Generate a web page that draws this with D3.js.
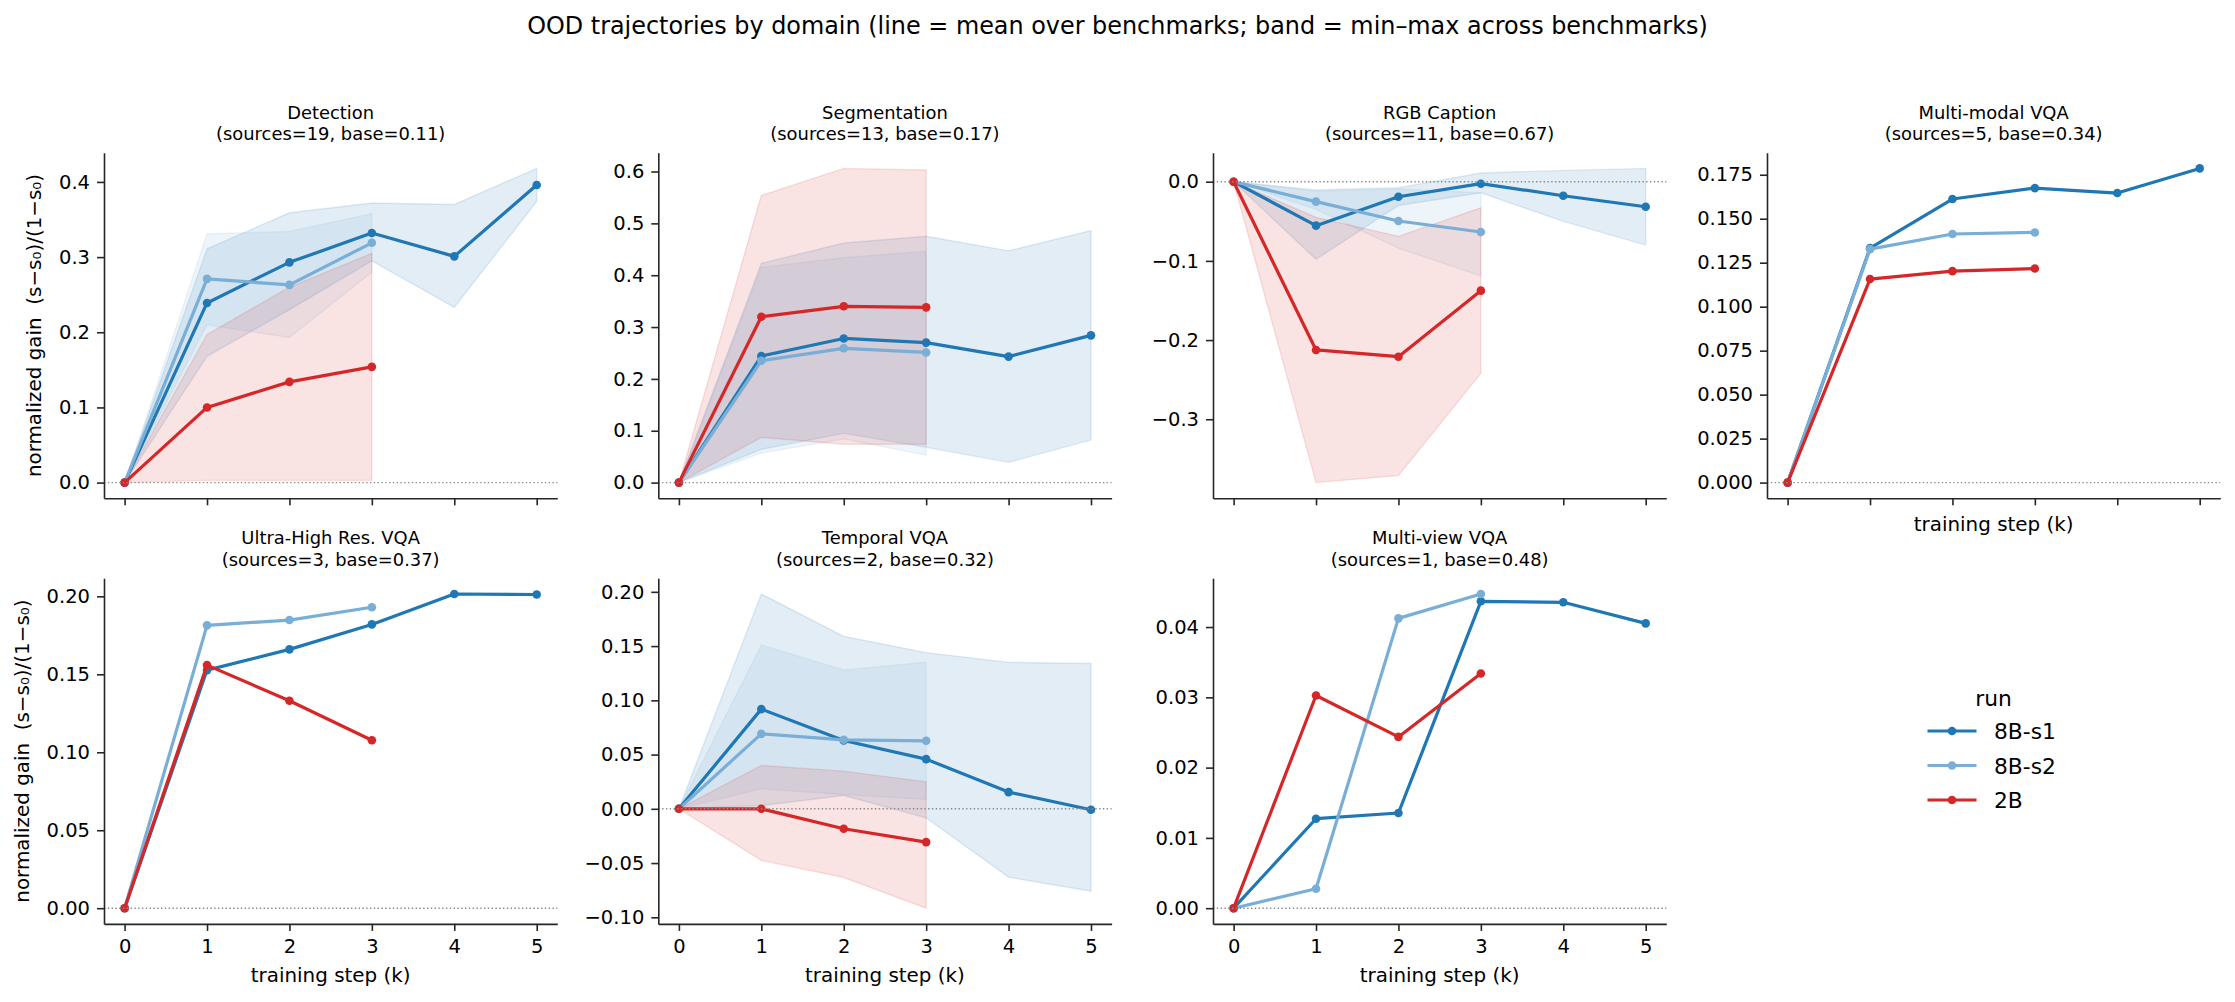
<!DOCTYPE html>
<html>
<head>
<meta charset="utf-8">
<script src="https://cdn.jsdelivr.net/npm/d3@7"></script>
<style>
  body { margin: 0; background: #fff; }
  svg text { font-family: "DejaVu Sans", sans-serif; fill: #000; }
  .ylab { white-space: pre; }
</style>
</head>
<body>
<svg id="chart" width="2235" height="1002"></svg>
<script>
// OOD trajectories, one small multiple per domain
// line = mean over benchmarks, band = min-max across benchmarks

const steps = [0, 1, 2, 3, 4, 5];
const runs = ['8B-s1', '8B-s2', '2B'];

// Detection
const det_s1 = [0, 0.239, 0.293, 0.332, 0.301, 0.396];
const det_s1_lo = [0, 0.168, 0.230, 0.295, 0.233, 0.374];
const det_s1_hi = [0, 0.311, 0.359, 0.372, 0.370, 0.418];
const det_s2 = [0, 0.271, 0.263, 0.319];
const det_s2_lo = [0, 0.210, 0.193, 0.280];
const det_s2_hi = [0, 0.331, 0.334, 0.358];
const det_2b = [0, 0.100, 0.134, 0.154];
const det_2b_lo = [0, 0.003, 0.003, 0.003];
const det_2b_hi = [0, 0.197, 0.260, 0.305];

// Segmentation
const seg_s1 = [0, 0.244, 0.278, 0.270, 0.243, 0.284];
const seg_s1_lo = [0, 0.064, 0.095, 0.068, 0.039, 0.082];
const seg_s1_hi = [0, 0.423, 0.462, 0.475, 0.447, 0.486];
const seg_s2 = [0, 0.235, 0.259, 0.251];
const seg_s2_lo = [0, 0.057, 0.084, 0.053];
const seg_s2_hi = [0, 0.415, 0.434, 0.446];
const seg_2b = [0, 0.320, 0.340, 0.338];
const seg_2b_lo = [0, 0.087, 0.074, 0.074];
const seg_2b_hi = [0, 0.554, 0.606, 0.603];

// RGB Caption
const rgb_s1 = [0, -0.0555, -0.019, -0.0025, -0.0177, -0.0316];
const rgb_s1_lo = [0, -0.098, -0.030, -0.014, -0.050, -0.080];
const rgb_s1_hi = [0, -0.0104, -0.0075, 0.011, 0.0143, 0.0168];
const rgb_s2 = [0, -0.0252, -0.0496, -0.0635];
const rgb_s2_lo = [0, -0.035, -0.084, -0.119];
const rgb_s2_hi = [0, -0.012, -0.009, -0.014];
const rgb_2b = [0, -0.2125, -0.221, -0.1376];
const rgb_2b_lo = [0, -0.380, -0.371, -0.242];
const rgb_2b_hi = [0, -0.045, -0.069, -0.033];

// Multi-modal VQA (no spread shown)
const mm_s1 = [0, 0.1333, 0.1612, 0.1674, 0.1646, 0.1786];
const mm_s2 = [0, 0.1327, 0.1413, 0.1422];
const mm_2b = [0, 0.1157, 0.1202, 0.1217];

// Ultra-High Res. VQA
const uhr_s1 = [0, 0.1527, 0.1660, 0.1820, 0.2015, 0.2012];
const uhr_s2 = [0, 0.1814, 0.1848, 0.1930];
const uhr_2b = [0, 0.1559, 0.1330, 0.1077];

// Temporal VQA
const tmp_s1 = [0, 0.0919, 0.0630, 0.0458, 0.0154, -0.0009];
const tmp_s1_lo = [0, 0.003, 0.0123, -0.0083, -0.063, -0.076];
const tmp_s1_hi = [0, 0.198, 0.159, 0.144, 0.135, 0.134];
const tmp_s2 = [0, 0.0691, 0.0636, 0.0627];
const tmp_s2_lo = [0, 0.0184, 0.0132, 0.0086];
const tmp_s2_hi = [0, 0.151, 0.128, 0.135];
const tmp_2b = [0, 0, -0.0184, -0.0307];
const tmp_2b_lo = [0, -0.0476, -0.0633, -0.0916];
const tmp_2b_hi = [0, 0.040, 0.0347, 0.0249];

// Multi-view VQA
const mv_s1 = [0, 0.01273, 0.01354, 0.04366, 0.04352, 0.04052];
const mv_s2 = [0, 0.00276, 0.04123, 0.0447];
const mv_2b = [0, 0.03026, 0.02437, 0.0334];

// y tick values per panel
const yTicksDet = [0, 0.1, 0.2, 0.3, 0.4];
const yTicksSeg = [0, 0.1, 0.2, 0.3, 0.4, 0.5, 0.6];
const yTicksRgb = [-0.3, -0.2, -0.1, 0];
const yTicksMm = [0, 0.025, 0.05, 0.075, 0.1, 0.125, 0.15, 0.175];
const yTicksUhr = [0, 0.05, 0.1, 0.15, 0.2];
const yTicksTmp = [-0.1, -0.05, 0, 0.05, 0.1, 0.15, 0.2];
const yTicksMv = [0, 0.01, 0.02, 0.03, 0.04];

const panels = [
    { name: 'Detection', sources: 19, base: '0.11', ticks: yTicksDet, dec: 1,
      mean: [det_s1, det_s2, det_2b], lo: [det_s1_lo, det_s2_lo, det_2b_lo], hi: [det_s1_hi, det_s2_hi, det_2b_hi] },
    { name: 'Segmentation', sources: 13, base: '0.17', ticks: yTicksSeg, dec: 1,
      mean: [seg_s1, seg_s2, seg_2b], lo: [seg_s1_lo, seg_s2_lo, seg_2b_lo], hi: [seg_s1_hi, seg_s2_hi, seg_2b_hi] },
    { name: 'RGB Caption', sources: 11, base: '0.67', ticks: yTicksRgb, dec: 1,
      mean: [rgb_s1, rgb_s2, rgb_2b], lo: [rgb_s1_lo, rgb_s2_lo, rgb_2b_lo], hi: [rgb_s1_hi, rgb_s2_hi, rgb_2b_hi] },
    { name: 'Multi-modal VQA', sources: 5, base: '0.34', ticks: yTicksMm, dec: 3,
      mean: [mm_s1, mm_s2, mm_2b] },
    { name: 'Ultra-High Res. VQA', sources: 3, base: '0.37', ticks: yTicksUhr, dec: 2,
      mean: [uhr_s1, uhr_s2, uhr_2b] },
    { name: 'Temporal VQA', sources: 2, base: '0.32', ticks: yTicksTmp, dec: 2,
      mean: [tmp_s1, tmp_s2, tmp_2b], lo: [tmp_s1_lo, tmp_s2_lo, tmp_2b_lo], hi: [tmp_s1_hi, tmp_s2_hi, tmp_2b_hi] },
    { name: 'Multi-view VQA', sources: 1, base: '0.48', ticks: yTicksMv, dec: 2,
      mean: [mv_s1, mv_s2, mv_2b] }
];

// styling / layout
const runColor = ['#1f77b4', '#79aed6', '#d62728'];
const bandAlpha = 0.13;
const colLeft = [104, 658.3, 1213, 1767];
const rowTop = [152.7, 578.3];
const panelW = 453.3, panelH = 345.6;
const fsTick = 19.5, fsTitle = 17.9, fsLabel = 19.9, fsLegend = 21.8;

const svg = d3.select('#chart');

svg.append('text')
    .attr('x', 1117.5).attr('y', 34)
    .attr('text-anchor', 'middle')
    .attr('font-size', 23.9)
    .text('OOD trajectories by domain (line = mean over benchmarks; band = min–max across benchmarks)');

panels.forEach((p, k) => {
    const row = k < 4 ? 0 : 1;
    const col = k < 4 ? k : k - 4;
    const left = colLeft[col], top = rowTop[row];
    const g = svg.append('g').attr('transform', `translate(${left},${top})`);

    const x = d3.scaleLinear().domain([-0.25, 5.25]).range([0, panelW]);
    const all = p.mean.flat().concat(p.lo ? p.lo.flat() : [], p.hi ? p.hi.flat() : []);
    const [lo, hi] = d3.extent(all);
    const pad = (hi - lo) * 0.05;
    const y = d3.scaleLinear().domain([lo - pad, hi + pad]).range([panelH, 0]);

    // Bands
    if (p.lo) {
        p.mean.forEach((m, r) => {
            const pts = m.map((_, i) => ({ s: steps[i], lo: p.lo[r][i], hi: p.hi[r][i] }));
            const area = d3.area().x(d => x(d.s)).y0(d => y(d.lo)).y1(d => y(d.hi));
            g.append('path').datum(pts)
                .attr('d', area)
                .attr('fill', runColor[r])
                .attr('fill-opacity', bandAlpha)
                .attr('stroke', runColor[r])
                .attr('stroke-opacity', bandAlpha)
                .attr('stroke-width', 1.4);
        });
    }

    // Mean lines
    p.mean.forEach((m, r) => {
        const pts = m.map((v, i) => ({ s: steps[i], v }));
        const line = d3.line().x(d => x(d.s)).y(d => y(d.v));
        g.append('path').datum(pts)
            .attr('d', line)
            .attr('fill', 'none')
            .attr('stroke', runColor[r])
            .attr('stroke-width', 3.2)
            .attr('stroke-linejoin', 'round');
        g.selectAll(null).data(pts).enter().append('circle')
            .attr('cx', d => x(d.s)).attr('cy', d => y(d.v))
            .attr('r', 4.3)
            .attr('fill', runColor[r]);
    });

    // zero reference
    g.append('line')
        .attr('x1', 0).attr('x2', panelW)
        .attr('y1', y(0)).attr('y2', y(0))
        .attr('stroke', '#8a8a8a')
        .attr('stroke-width', 1.4)
        .attr('stroke-dasharray', '1.4,2.4');

    // Axes
    const showX = row === 1;
    const fmt = d3.format(`.${p.dec}f`);
    const yAx = g.append('g').attr('class', 'axis')
        .call(d3.axisLeft(y).tickValues(p.ticks).tickFormat(fmt)
            .tickSize(7).tickSizeOuter(0).tickPadding(7));
    const xAx = g.append('g').attr('class', 'axis')
        .attr('transform', `translate(0,${panelH})`)
        .call(d3.axisBottom(x).tickValues(steps).tickFormat(showX ? d3.format('d') : () => '')
            .tickSize(7).tickSizeOuter(0).tickPadding(7));
    [yAx, xAx].forEach(a => {
        a.select('.domain').attr('stroke', '#262626').attr('stroke-width', 1.6);
        a.selectAll('.tick line').attr('stroke', '#262626').attr('stroke-width', 1.6);
        a.selectAll('.tick text').attr('font-size', fsTick).attr('fill', '#000')
            .attr('font-family', '"DejaVu Sans", sans-serif');
    });
    xAx.selectAll('.tick text').attr('dy', '0.79em');

    // Title
    const t = g.append('text')
        .attr('x', panelW / 2).attr('y', -34)
        .attr('text-anchor', 'middle')
        .attr('font-size', fsTitle);
    t.append('tspan').attr('x', panelW / 2).text(p.name);
    t.append('tspan').attr('x', panelW / 2).attr('dy', 21.5)
        .text(`(sources=${p.sources}, base=${p.base})`);

    // x label
    if (showX || k === 3) {
        g.append('text')
            .attr('x', panelW / 2)
            .attr('y', showX ? panelH + 58 : panelH + 32.5)
            .attr('text-anchor', 'middle')
            .attr('font-size', fsLabel)
            .text('training step (k)');
    }

    // y label on first column
    if (col === 0) {
        const maxW = d3.max(yAx.selectAll('.tick text').nodes(), n => n.getBBox().width);
        const bx = -14 - maxW - 18;
        g.append('text')
            .attr('class', 'ylab')
            .attr('transform', `translate(${bx},${panelH / 2}) rotate(-90)`)
            .attr('text-anchor', 'middle')
            .attr('font-size', fsLabel)
            .text('normalized gain  (s−s₀)/(1−s₀)');
    }
});

// Legend
const leg = svg.append('g');
leg.append('text')
    .attr('x', 1993.5).attr('y', 706)
    .attr('text-anchor', 'middle')
    .attr('font-size', fsLegend)
    .text('run');
runs.forEach((name, r) => {
    const ly = 731 + r * 34.5;
    leg.append('line')
        .attr('x1', 1927.5).attr('x2', 1976.5)
        .attr('y1', ly).attr('y2', ly)
        .attr('stroke', runColor[r]).attr('stroke-width', 3.2);
    leg.append('circle')
        .attr('cx', 1952).attr('cy', ly).attr('r', 4.3)
        .attr('fill', runColor[r]);
    leg.append('text')
        .attr('x', 1994).attr('y', ly + 8)
        .attr('font-size', fsLegend)
        .text(name);
});
</script>
</body>
</html>
